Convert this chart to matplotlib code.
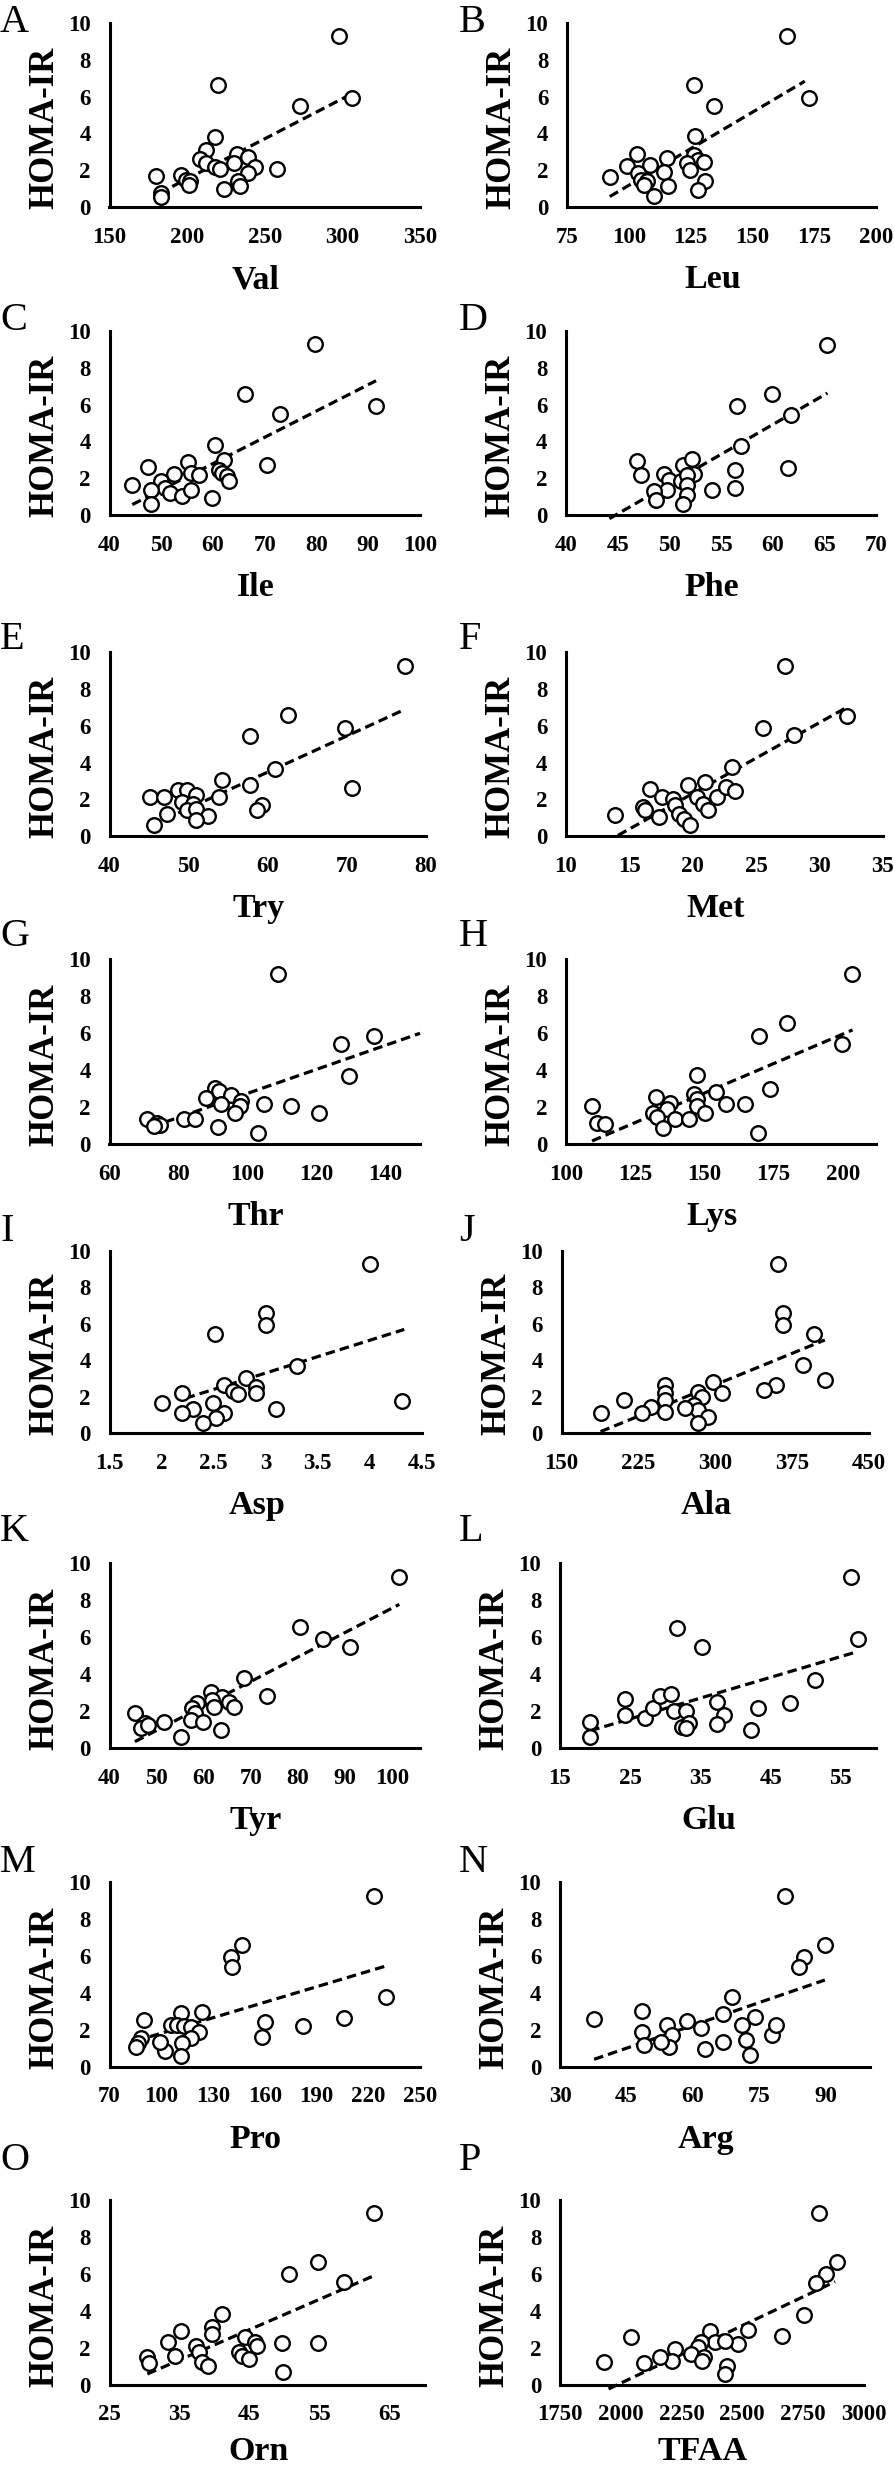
import matplotlib
matplotlib.use("Agg")
import matplotlib.pyplot as plt
import numpy as np

# ---------------- data (HOMA-IR vs amino acid) ----------------
val_x = [298, 306, 273, 220, 218, 212, 232, 239, 208, 212, 230, 218, 221, 244, 258, 239, 180, 196, 199, 202, 201, 233, 234, 224, 183, 183]
val_y = [9.3, 5.9, 5.5, 6.6, 3.8, 3.1, 2.9, 2.75, 2.6, 2.4, 2.4, 2.2, 2.1, 2.2, 2.1, 1.85, 1.7, 1.75, 1.5, 1.4, 1.2, 1.4, 1.15, 1.0, 0.75, 0.55]
val_trend = ([182, 305], [0.76, 6.1])

leu_x = [163.8, 173, 134.3, 126.4, 126.9, 103.4, 115.4, 126.4, 128, 99.2, 108.4, 123.4, 130.4, 124.6, 92.3, 103.8, 114.2, 105, 107.3, 106.1, 115.8, 131, 128, 110.3]
leu_y = [9.28, 5.92, 5.5, 6.6, 3.84, 2.9, 2.65, 2.85, 2.55, 2.25, 2.3, 2.4, 2.45, 2.0, 1.65, 1.85, 1.9, 1.5, 1.4, 1.2, 1.15, 1.4, 0.95, 0.6]
leu_trend = ([92.3, 171.2], [0.58, 6.83])

ile_x = [79.7, 91.5, 73.0, 66.2, 60.4, 70.4, 47.5, 55.2, 62.1, 52.4, 55.7, 57.2, 61.2, 61.8, 62.7, 63, 44.4, 49.9, 50.8, 51.6, 48, 54.1, 55.7, 59.8, 48]
ile_y = [9.28, 5.94, 5.49, 6.57, 3.79, 2.71, 2.6, 2.89, 3.01, 2.26, 2.29, 2.2, 2.47, 2.29, 2.11, 1.84, 1.66, 1.84, 1.48, 1.21, 1.39, 1.03, 1.39, 0.94, 0.61]
ile_trend = ([44.4, 91.5], [0.58, 7.29])

phe_x = [65.3, 59.9, 56.5, 61.8, 56.9, 61.5, 56.4, 56.4, 54.1, 46.9, 47.3, 49.5, 51.3, 52.2, 52.4, 50, 51.1, 51.7, 51.7, 49.8, 48.5, 48.7, 51.7, 51.3]
phe_y = [9.24, 6.57, 5.9, 5.42, 3.74, 2.56, 2.44, 1.48, 1.39, 2.96, 2.2, 2.26, 2.74, 3.07, 2.26, 1.93, 1.84, 2.2, 1.66, 1.39, 1.3, 0.85, 1.12, 0.61]
phe_trend = ([44.2, 65.3], [-0.18, 6.62])

try_x = [77.3, 62.5, 69.8, 57.8, 60.9, 70.7, 57.8, 54.2, 53.8, 48.7, 49.8, 45.1, 46.9, 50.9, 49.1, 50.5, 49.8, 50.9, 47.3, 52.5, 50.9, 59.3, 58.7, 45.6]
try_y = [9.22, 6.6, 5.88, 5.42, 3.67, 2.64, 2.77, 3.04, 2.13, 2.53, 2.5, 2.13, 2.13, 2.22, 1.86, 1.77, 1.45, 1.5, 1.19, 1.1, 0.9, 1.68, 1.41, 0.6]
try_trend = ([45.3, 77.1], [0.6, 6.84])

met_x = [27.3, 32.2, 28.0, 25.5, 23.1, 13.9, 16.1, 16.2, 16.6, 17.6, 17.3, 18.4, 18.6, 18.9, 19.3, 19.8, 19.6, 20.3, 20.8, 21.2, 21.0, 21.9, 22.6, 23.3]
met_y = [9.22, 6.51, 5.48, 5.88, 3.76, 1.14, 1.59, 1.41, 2.59, 2.13, 1.05, 2.04, 1.68, 1.23, 0.96, 0.6, 2.8, 2.13, 1.77, 1.41, 2.95, 2.13, 2.68, 2.46]
met_trend = ([14.1, 32.2], [0.05, 7.02])

thr_x = [108.8, 136.6, 127.2, 129.4, 90.6, 91.8, 88.1, 95.2, 92.3, 98.2, 97.7, 96.5, 104.9, 112.5, 120.6, 71, 73.8, 74.6, 81.7, 84.7, 91.5, 102.9, 73]
thr_y = [9.19, 5.86, 5.41, 3.69, 3.06, 2.88, 2.52, 2.65, 2.16, 2.34, 2.07, 1.71, 2.16, 2.07, 1.71, 1.39, 1.17, 1.03, 1.39, 1.39, 0.94, 0.59, 0.99]
thr_trend = ([72.1, 150], [0.94, 6.0])

lys_x = [203.5, 180, 169.9, 199.6, 147.4, 173.7, 154.3, 146.3, 147.4, 132.4, 137.6, 136.5, 131.3, 132.8, 139.2, 135.1, 144.5, 147.4, 150.1, 157.8, 164.7, 169.3, 109.4, 111.1, 114]
lys_y = [9.19, 6.54, 5.86, 5.41, 3.73, 2.97, 2.85, 2.7, 2.43, 2.58, 2.22, 1.93, 1.71, 1.5, 1.35, 0.9, 1.39, 2.07, 1.68, 2.16, 2.16, 0.63, 2.07, 1.17, 1.08]
lys_trend = ([109.4, 203.5], [0.18, 6.18])

asp_x = [4.0, 3.0, 3.0, 2.51, 3.3, 2.81, 2.6, 2.91, 2.69, 2.73, 2.91, 2.2, 2.0, 2.3, 2.2, 2.49, 2.6, 2.52, 2.4, 3.1, 4.31]
asp_y = [9.25, 6.61, 5.93, 5.44, 3.69, 3.01, 2.65, 2.55, 2.34, 2.15, 2.19, 2.19, 1.64, 1.31, 1.13, 1.64, 1.09, 0.82, 0.55, 1.33, 1.77]
asp_trend = ([2.23, 4.33], [1.92, 5.69])

ala_x = [361.4, 365.9, 365.9, 396.8, 385.6, 406.9, 359.2, 347.4, 297.5, 307, 282.9, 287.4, 279, 282.9, 293, 282.9, 270.6, 251, 251, 251, 251, 236.9, 228.5, 210.6, 188.1]
ala_y = [9.25, 6.57, 5.93, 5.44, 3.74, 2.92, 2.65, 2.37, 2.83, 2.19, 2.28, 2.01, 1.55, 1.28, 0.91, 0.58, 1.37, 2.65, 2.19, 1.82, 1.19, 1.46, 1.09, 1.82, 1.13]
ala_trend = ([188.1, 406.9], [0.09, 5.11])

tyr_x = [101.6, 80.5, 85.3, 91.1, 68.6, 73.5, 61.5, 63.9, 65.4, 66.5, 61.7, 62.3, 58.7, 57.5, 58.1, 57.3, 59.9, 63.8, 55.1, 45.4, 47.6, 46.6, 48.1, 51.5]
tyr_y = [9.24, 6.54, 5.89, 5.46, 3.82, 2.85, 3.06, 2.79, 2.52, 2.25, 2.61, 2.25, 2.43, 2.16, 1.89, 1.53, 1.44, 0.99, 0.63, 1.89, 1.39, 1.08, 1.26, 1.44]
tyr_trend = ([45.4, 101.6], [0.36, 7.78])

glu_x = [56.4, 57.4, 35.2, 31.6, 51.3, 47.7, 43.2, 37.3, 38.3, 37.4, 42.2, 24.2, 24.2, 27.1, 28.3, 29.3, 30.8, 31.2, 33, 32.4, 33.4, 33, 19.3, 19.3]
glu_y = [9.24, 5.89, 5.5, 6.52, 3.68, 2.43, 2.16, 2.5, 1.8, 1.33, 0.99, 2.65, 1.8, 1.62, 2.2, 2.83, 2.95, 2.0, 2.0, 1.17, 1.35, 1.08, 1.44, 0.63]
glu_trend = ([19.3, 57.4], [0.95, 5.23])

pro_x = [223.6, 230.2, 146.8, 140.2, 141.2, 123.7, 111.5, 160, 158.3, 182.1, 206.2, 89.8, 105.6, 108.9, 112.9, 117.1, 122.1, 117.1, 112.2, 111.5, 102.3, 99, 88.5, 86.5, 85.2]
pro_y = [9.26, 3.76, 6.6, 5.97, 5.42, 2.98, 2.89, 2.44, 1.63, 2.21, 2.62, 2.53, 2.26, 2.26, 2.21, 2.17, 1.9, 1.54, 1.27, 0.6, 0.87, 1.36, 1.54, 1.3, 1.08]
pro_trend = ([85.2, 230.2], [1.4, 5.46])

arg_x = [80.9, 89.8, 85.0, 83.9, 68.9, 66.9, 74.0, 37.7, 48.5, 48.5, 48.9, 54.1, 55.4, 54.7, 52.8, 58.6, 61.8, 62.8, 66.7, 71.2, 72.1, 72.9, 77.9, 78.8]
arg_y = [9.26, 6.6, 5.97, 5.42, 3.8, 2.84, 2.71, 2.57, 3.02, 1.9, 1.18, 2.26, 1.72, 1.08, 1.36, 2.49, 2.08, 0.96, 1.36, 2.26, 1.45, 0.63, 1.72, 2.26]
arg_trend = ([37.7, 89.8], [0.4, 4.7])

orn_x = [62.8, 54.8, 50.6, 58.5, 41.1, 35.2, 39.6, 39.6, 33.4, 37.4, 37.8, 34.4, 30.4, 30.7, 38.2, 39.0, 44.3, 45.8, 46.1, 43.5, 43.9, 44.9, 49.7, 54.8, 49.8]
orn_y = [9.26, 6.61, 5.98, 5.53, 3.82, 2.92, 3.1, 2.74, 2.29, 2.11, 1.78, 1.57, 1.48, 1.17, 1.24, 0.99, 2.56, 2.29, 2.11, 1.75, 1.57, 1.39, 2.23, 2.23, 0.67]
orn_trend = ([30.4, 63.0], [0.58, 5.93])

tfaa_x = [2817, 2890, 2847, 2805, 2753, 2664, 2523, 2483, 2366, 2389, 2330, 2319, 2288, 2342, 2335, 2429, 2436, 2429, 2225, 2213, 2161, 2095, 2041, 1931]
tfaa_y = [9.26, 6.61, 5.98, 5.5, 3.77, 2.65, 2.97, 2.2, 2.92, 2.29, 2.29, 2.02, 1.66, 1.48, 1.3, 2.38, 1.03, 0.58, 1.93, 1.3, 1.48, 1.17, 2.56, 1.24]
tfaa_trend = ([1950, 2883], [-0.23, 5.57])

panel_letters = list("ABCDEFGHIJKLMNOP")
x_names = ["Val", "Leu", "Ile", "Phe", "Try", "Met", "Thr", "Lys",
           "Asp", "Ala", "Tyr", "Glu", "Pro", "Arg", "Orn", "TFAA"]
y_name = "HOMA-IR"
y_ticks = [0, 2, 4, 6, 8, 10]

x_ticks = [
    [150, 200, 250, 300, 350],
    [75, 100, 125, 150, 175, 200],
    [40, 50, 60, 70, 80, 90, 100],
    [40, 45, 50, 55, 60, 65, 70],
    [40, 50, 60, 70, 80],
    [10, 15, 20, 25, 30, 35],
    [60, 80, 100, 120, 140],
    [100, 125, 150, 175, 200],
    [1.5, 2, 2.5, 3, 3.5, 4, 4.5],
    [150, 225, 300, 375, 450],
    [40, 50, 60, 70, 80, 90, 100],
    [15, 25, 35, 45, 55],
    [70, 100, 130, 160, 190, 220, 250],
    [30, 45, 60, 75, 90],
    [25, 35, 45, 55, 65],
    [1750, 2000, 2250, 2500, 2750, 3000],
]
x_limits = [(150, 350), (75, 200), (40, 100), (40, 70), (40, 80), (10, 35),
            (60, 150), (100, 212), (1.5, 4.5), (150, 450), (40, 106), (15, 60),
            (70, 250), (30, 100), (25, 70), (1750, 3000)]

series = [
    (val_x, val_y, val_trend), (leu_x, leu_y, leu_trend),
    (ile_x, ile_y, ile_trend), (phe_x, phe_y, phe_trend),
    (try_x, try_y, try_trend), (met_x, met_y, met_trend),
    (thr_x, thr_y, thr_trend), (lys_x, lys_y, lys_trend),
    (asp_x, asp_y, asp_trend), (ala_x, ala_y, ala_trend),
    (tyr_x, tyr_y, tyr_trend), (glu_x, glu_y, glu_trend),
    (pro_x, pro_y, pro_trend), (arg_x, arg_y, arg_trend),
    (orn_x, orn_y, orn_trend), (tfaa_x, tfaa_y, tfaa_trend),
]

# ---------------- layout (pixels in 894 x 2469 canvas) ----------------
W, H = 894, 2469
# [left, top, right, bottom]
boxes = [
    [109.5, 22.7, 420, 207.3], [567, 22.7, 876, 207.3],
    [109.5, 330.7, 420, 515.3], [566, 330.7, 876, 515.3],
    [109.5, 652, 426, 836.3], [566, 652, 883, 836.3],
    [109.5, 959.3, 420, 1144.3], [566, 959.3, 876, 1144.3],
    [109.5, 1250.7, 422, 1433.3], [561.5, 1250.7, 869, 1433.3],
    [109.5, 1563.3, 420, 1748.3], [560, 1563.3, 876, 1748.3],
    [109.5, 1882.3, 420, 2066.7], [560, 1882.3, 870, 2066.7],
    [109.5, 2199.7, 424.6, 2384.7], [560, 2199.7, 863.5, 2384.7],
]
letter_tops = [4, 4, 302, 302, 621, 621, 918, 918, 1213, 1213, 1513, 1513, 1844, 1844, 2142, 2142]
letter_lefts = [0, 459]

SERIF = ["Liberation Serif", "DejaVu Serif"]
plt.rcParams["font.family"] = SERIF

fig = plt.figure(figsize=(W / 100, H / 100), dpi=100)

for i, (xs, ys, trend) in enumerate(series):
    l, t, r, b = boxes[i]
    ax = fig.add_axes([l / W, 1 - b / H, (r - l) / W, (b - t) / H])
    ax.set_facecolor("none")
    ax.plot(trend[0], trend[1], color="black", lw=2.3, ls=(0, (3.0, 1.6)),
            clip_on=False, zorder=2)
    ax.plot(xs, ys, ls="none", marker="o", ms=10.5, mfc="white",
            mec="black", mew=1.7, zorder=3, clip_on=False)
    ax.set_xlim(*x_limits[i])
    ax.set_ylim(0, 10)
    ax.set_xticks(x_ticks[i])
    ax.set_xticklabels([f"{v:g}" for v in x_ticks[i]], fontsize=16.5,
                       fontweight="bold", family=SERIF)
    ax.set_yticks(y_ticks)
    ax.set_yticklabels([f"{v:g}" for v in y_ticks], fontsize=16.5,
                       fontweight="bold", family=SERIF)
    for s in ("top", "right"):
        ax.spines[s].set_visible(False)
    for s in ("left", "bottom"):
        ax.spines[s].set_linewidth(2.2)
        ax.spines[s].set_color("black")
        ax.spines[s].set_zorder(1)
    ax.tick_params(axis="both", length=0)
    ax.tick_params(axis="x", pad=14)
    ax.tick_params(axis="y", pad=13.5)

    # y label (bottom aligned with the x axis)
    fig.text((l - 65) / W, 1 - (b + 2) / H, y_name, rotation=90,
             ha="center", va="bottom", fontsize=25, fontweight="bold",
             family=SERIF)
    # x label (baseline placed below the axis, kept inside the canvas)
    base = min(b + 81, H - 9)
    fig.text((l + r) / 2 / W - 9 / W, 1 - base / H, x_names[i],
             ha="center", va="baseline", fontsize=24.5, fontweight="bold",
             family=SERIF)
    # panel letter
    fig.text(letter_lefts[i % 2] / W, 1 - letter_tops[i] / H, panel_letters[i],
             ha="left", va="top", fontsize=29, family=SERIF)

fig.savefig("out.png", dpi=100, facecolor="white")
